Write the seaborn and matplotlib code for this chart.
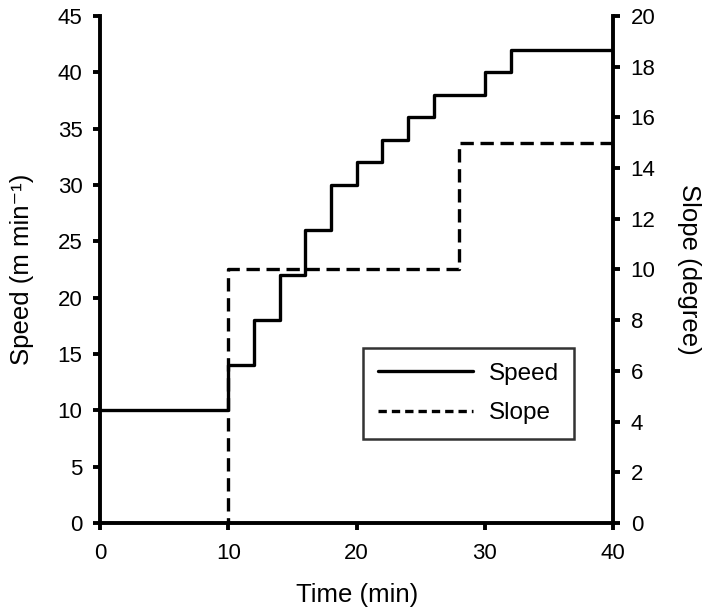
import matplotlib
matplotlib.use("Agg")
import matplotlib.pyplot as plt
import seaborn as sns
import pandas as pd

sns.set_theme(style="ticks")
plt.rcParams['font.family'] = ['Liberation Sans', 'DejaVu Sans']
plt.rc('xtick', labelsize=16.)
plt.rc('ytick', labelsize=16.)
plt.rc('axes', labelsize=18.5, labelcolor='black')
plt.rc('text', color='black')

# speed protocol (m/min) vs time (min)
speed_time = [0, 10, 12, 14, 16, 18, 20, 22, 24, 26, 30, 32, 40]
speed_vals = [10, 14, 18, 22, 26, 30, 32, 34, 36, 38, 40, 42, 42]

# treadmill slope (degree) vs time (min)
slope_time = [0, 10, 28, 40]
slope_vals = [0, 10, 15, 15]

df_speed = pd.DataFrame({"time": speed_time, "speed": speed_vals})
df_slope = pd.DataFrame({"time": slope_time, "slope": slope_vals})

fig = plt.figure(figsize=[7.09, 6.09], dpi=100)
ax = fig.add_axes([0.141, 0.141, 0.724, 0.833])
ax2 = ax.twinx()

sns.lineplot(df_speed, x="time", y="speed", ax=ax, color="black",
             lw=2.4, drawstyle="steps-post", label="Speed", legend=False)
sns.lineplot(df_slope, x="time", y="slope", ax=ax2, color="black",
             lw=2.4, ls=(0, (4, 2)), drawstyle="steps-post", label="Slope",
             legend=False)

ax.set_xlim(0, 40)
ax.set_ylim(0, 45)
ax2.set_ylim(0, 20)
ax.set_xticks([0, 10, 20, 30, 40])
ax.set_yticks(range(0, 46, 5))
ax2.set_yticks(range(0, 21, 2))

ax.set_xlabel("Time (min)", labelpad=14)
ax.set_ylabel("Speed (m min\u207b\u00b9)", labelpad=17)
ax2.set_ylabel("Slope (degree)", rotation=270, labelpad=33)

for a in (ax, ax2):
    a.spines['top'].set_visible(False)
    for s in ('left', 'right', 'bottom'):
        a.spines[s].set_linewidth(2.8)
        a.spines[s].set_color('black')
    a.tick_params(width=2.8, length=5, pad=7.5, color='black',
                  labelcolor='black')
ax.tick_params(axis='x', pad=9)
ax.spines['right'].set_visible(False)
ax2.spines['left'].set_visible(False)
ax2.spines['bottom'].set_visible(False)

h1, l1 = ax.get_legend_handles_labels()
h2, l2 = ax2.get_legend_handles_labels()
leg = ax2.legend(h1 + h2, l1 + l2, loc='upper left',
                 bbox_to_anchor=(0.513, 0.345), borderaxespad=0,
                 frameon=True, fancybox=False, edgecolor='black',
                 fontsize=17.5, handlelength=3.9, borderpad=0.6,
                 labelspacing=0.72, handletextpad=0.68)
leg.get_frame().set_linewidth(1.8)
leg.get_lines()[1].set_linestyle((0, (2.5, 1.5)))

fig.savefig("out.png", dpi=100)
